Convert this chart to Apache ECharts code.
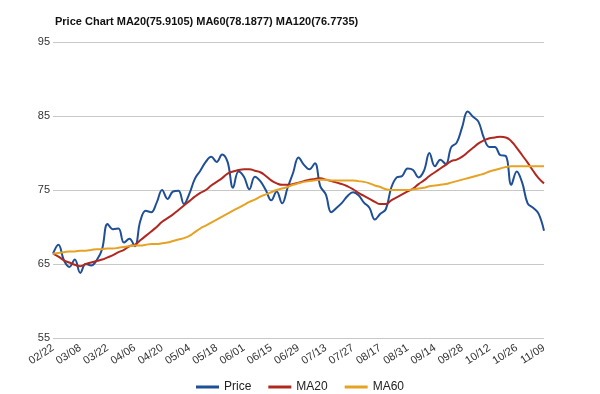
<!DOCTYPE html>
<html>
<head>
<meta charset="utf-8">
<script src="https://cdn.jsdelivr.net/npm/echarts@6/dist/echarts.min.js"></script>
<style>html,body{margin:0;padding:0;background:#fff;}#c{width:600px;height:394px;}</style>
</head>
<body>
<div id="c"></div>
<script>
var titleText = 'Price Chart MA20(75.9105) MA60(78.1877) MA120(76.7735)';
var tickLabels = ['02/22','03/08','03/22','04/06','04/20','05/04','05/18','06/01','06/15','06/29','07/13','07/27','08/17','08/31','09/14','09/28','10/12','10/26','11/09'];
var pointsPerTick = 5;
var price = [66.4,67.6,65.5,64.6,65.6,63.8,65.0,64.8,65.5,67.0,
70.4,69.7,69.8,67.9,68.4,67.4,70.8,72.2,72.0,73.3,
75.0,73.8,74.8,74.9,73.1,74.5,76.5,77.6,78.8,79.5,
78.8,79.8,78.8,75.3,77.5,76.8,75.1,76.8,76.2,75.0,
73.6,74.8,73.2,75.3,77.3,79.4,78.4,77.8,78.6,75.5,
74.4,72.0,72.6,73.3,74.2,74.7,74.3,73.3,72.6,71.0,
71.8,72.4,75.3,76.7,76.9,77.9,77.7,76.7,77.6,80.0,
78.2,79.1,78.5,80.8,81.4,83.5,85.6,84.9,84.2,82.0,
80.8,80.8,79.7,79.6,75.7,77.5,76.0,73.2,72.6,71.8,
69.5];
var ma20 = [66.4,66.0,65.5,65.2,64.9,64.7,65.0,65.2,65.4,65.6,
65.9,66.2,66.6,66.9,67.4,67.6,68.2,68.8,69.4,70.0,
70.7,71.2,71.7,72.3,72.9,73.5,74.1,74.6,75.0,75.6,
76.1,76.6,77.2,77.5,77.7,77.8,77.8,77.6,77.4,76.9,
76.3,75.9,75.7,75.7,75.8,76.0,76.2,76.4,76.5,76.6,
76.4,76.2,76.0,75.8,75.5,75.1,74.6,74.2,73.8,73.4,
73.1,73.1,73.6,74.0,74.4,74.8,75.2,75.8,76.3,76.9,
77.4,77.9,78.4,78.9,79.1,79.5,80.1,80.7,81.3,81.7,
82.0,82.1,82.2,82.1,81.6,80.7,79.7,78.7,77.6,76.6,
75.9];
var ma60 = [66.4,66.5,66.6,66.7,66.7,66.8,66.8,66.9,67.0,67.0,
67.1,67.1,67.2,67.3,67.4,67.5,67.5,67.6,67.7,67.7,
67.8,67.9,68.1,68.3,68.5,68.8,69.3,69.8,70.2,70.6,
71.0,71.4,71.8,72.2,72.6,73.0,73.4,73.7,74.1,74.4,
74.7,75.0,75.2,75.4,75.7,75.9,76.1,76.2,76.3,76.4,
76.4,76.3,76.3,76.3,76.3,76.3,76.2,76.1,75.9,75.6,
75.4,75.1,75.0,75.0,75.0,75.0,75.1,75.2,75.3,75.5,
75.6,75.7,75.8,76.0,76.2,76.4,76.6,76.8,77.0,77.2,
77.5,77.7,77.9,78.1,78.2,78.2,78.2,78.2,78.2,78.2,
78.2];
var yMin = 55, yMax = 95, yStep = 10;

var cats = price.map(function(_, i){ return String(i); });
var chart = echarts.init(document.getElementById('c'), null, {renderer:'canvas'});
var font = 'Arial, "Liberation Sans", sans-serif';
chart.setOption({
  animation: false,
  backgroundColor: '#fff',
  title: {
    text: titleText, left: 50, top: 11,
    textStyle: {fontFamily: font, fontSize: 11, fontWeight: 'bold', color: '#111'}
  },
  legend: {
    top: 376, left: 'center', icon: 'rect', itemWidth: 23, itemHeight: 3, itemGap: 17,
    textStyle: {fontFamily: font, fontSize: 12, color: '#222'},
    data: ['Price','MA20','MA60']
  },
  grid: {left: 53, right: 56, top: 42, bottom: 56, containLabel: false},
  xAxis: {
    type: 'category', data: cats, boundaryGap: false,
    axisLine: {show: false}, axisTick: {show: false},
    axisLabel: {
      interval: function(i){ return i % pointsPerTick === 0; },
      formatter: function(v, i){ return tickLabels[Math.round(Number(v) / pointsPerTick)]; },
      rotate: 33, margin: 9, fontFamily: font, fontSize: 11, color: '#333'
    },
    splitLine: {show: false}
  },
  yAxis: {
    type: 'value', min: yMin, max: yMax, interval: yStep,
    axisLine: {show: false}, axisTick: {show: false},
    axisLabel: {margin: 3, fontFamily: font, fontSize: 11, color: '#333'},
    splitLine: {lineStyle: {color: '#c8c8c8', width: 1}}
  },
  series: [
    {name: 'Price', type: 'line', data: price, symbol: 'none', smooth: 0.4,
     lineStyle: {color: '#1f4f96', width: 2}, itemStyle: {color: '#1f4f96'}},
    {name: 'MA20', type: 'line', data: ma20, symbol: 'none', smooth: 0.5,
     lineStyle: {color: '#b0281f', width: 2}, itemStyle: {color: '#b0281f'}},
    {name: 'MA60', type: 'line', data: ma60, symbol: 'none', smooth: 0.5,
     lineStyle: {color: '#e6a323', width: 2}, itemStyle: {color: '#e6a323'}}
  ]
});
</script>
</body>
</html>
